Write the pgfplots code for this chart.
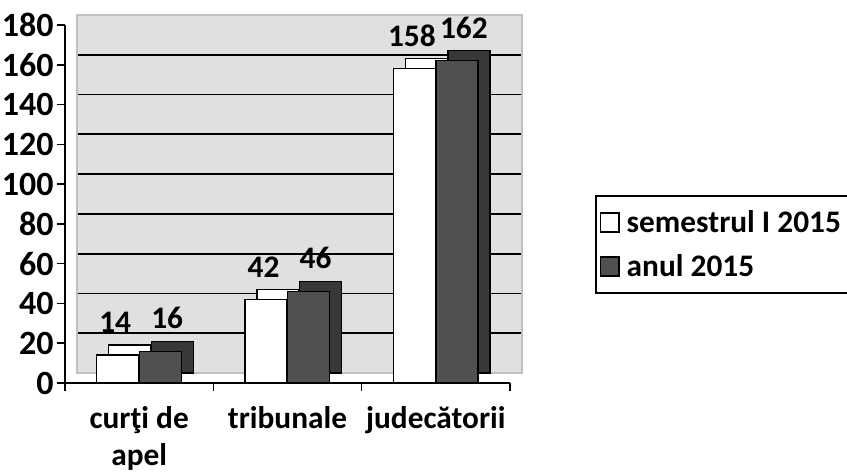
\documentclass[border=0pt]{standalone}
\usepackage{pgfplots}
\pgfplotsset{compat=1.18}
\usepackage{fontspec}
\setmainfont{Carlito}
\definecolor{wallgray}{HTML}{E0E0E0}
\definecolor{darkbar}{HTML}{505050}
\definecolor{darkside}{HTML}{383838}
\begin{document}
\begin{tikzpicture}[font=\fontsize{23.5}{27}\selectfont\bfseries]
\path[use as bounding box] (-48.75pt,-66.75pt) rectangle (586.5pt,287.25pt);
% back wall
\begin{axis}[at={(9pt,7.5pt)}, anchor=south west,
  width=333.75pt, height=268.5pt, scale only axis,
  xmin=-0.5, xmax=2.5, ymin=0, ymax=180,
  ytick={0,20,...,180}, yticklabels={}, xtick=\empty,
  major tick length=0pt,
  ymajorgrids, grid style={black, line width=1.3pt},
  axis background/.style={fill=wallgray},
  axis line style={gray!50, line width=0.8pt}]
\end{axis}
% front
\begin{axis}[at={(0pt,0pt)}, anchor=south west,
  width=333.75pt, height=268.5pt, scale only axis,
  xmin=-0.5, xmax=2.5, ymin=0, ymax=180,
  ybar, bar width=31.5pt,
  axis x line*=bottom, axis y line*=left,
  axis line style={black, line width=1.2pt},
  tick align=outside, major tick length=6pt,
  tick style={black, line width=1.2pt},
  ytick={0,20,...,180},
  xtick={-0.5,0.5,1.5,2.5}, x tick label as interval,
  xticklabels={{curţi de\\apel},tribunale,judecătorii},
  xticklabel style={align=center, yshift=-8pt, text depth=0pt,
    font=\fontsize{23.5}{27.5}\selectfont\bfseries},
  /pgf/number format/assume math mode=true,
  yticklabel style={font=\fontsize{25.5}{28}\selectfont\bfseries, xshift=1pt},
  legend style={at={(1.191,0.525)}, anchor=north west, draw=black,
    line width=1.2pt, font=\fontsize{23.5}{27}\selectfont\bfseries,
    row sep=11pt, column sep=3pt, inner xsep=3pt, inner ysep=9pt},
  legend cell align=left,
  legend image code/.code={\draw[#1, line width=1.2pt] (0pt,-7pt) rectangle (14pt,7pt);},
  every node near coord/.append style={font=\fontsize{23.5}{27}\selectfont\bfseries, yshift=13pt, black}]
% depth copies
\addplot[forget plot, bar shift=-16pt, xshift=9pt, yshift=7.5pt, fill=white, draw=black, line width=1pt]
  coordinates {(0,14) (1,42) (2,158)};
\addplot[forget plot, bar shift=16pt, xshift=9pt, yshift=7.5pt, fill=darkside, draw=black, line width=1pt]
  coordinates {(0,16) (1,46) (2,162)};
% front faces
\addplot[bar shift=-16pt, fill=white, draw=black, line width=1pt, nodes near coords,
  every node near coord/.append style={xshift=-2pt}]
  coordinates {(0,14) (1,42) (2,158)};
\addlegendentry{semestrul I 2015}
\addplot[bar shift=16pt, fill=darkbar, draw=black, line width=1pt, nodes near coords,
  every node near coord/.append style={xshift=5pt}]
  coordinates {(0,16) (1,46) (2,162)};
\addlegendentry{anul 2015}
\end{axis}
\end{tikzpicture}
\end{document}
